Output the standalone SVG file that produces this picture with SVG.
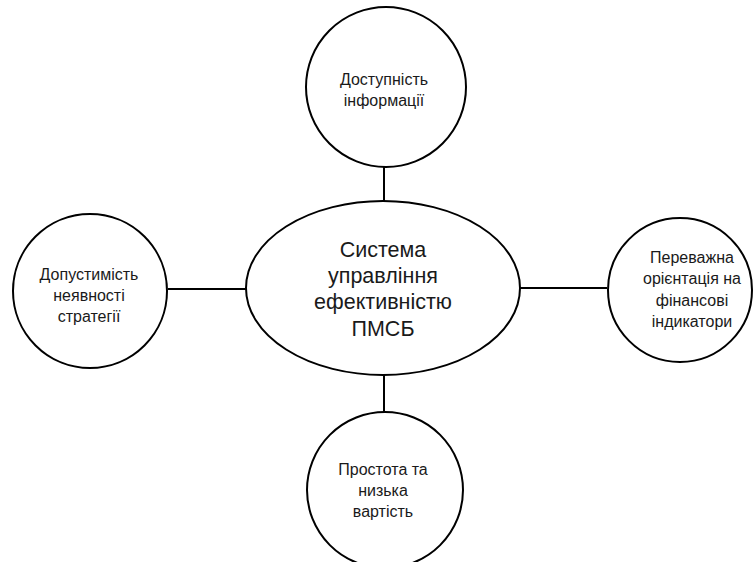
<svg xmlns="http://www.w3.org/2000/svg" width="753" height="562" viewBox="0 0 753 562">
<style>
.shape{fill:#fff;stroke:#000;stroke-width:2}
.conn line{stroke:#000;stroke-width:2}
.t{font-family:"Liberation Sans",Arial,sans-serif;font-size:16px;fill:#1a1a1a;text-anchor:middle}
.tc{font-family:"Liberation Sans",Arial,sans-serif;font-size:21.5px;fill:#1a1a1a;text-anchor:middle}
</style>
<rect width="753" height="562" fill="#fff"/>
<g id="connectors" class="conn">
<line x1="384" y1="166" x2="384" y2="201"/>
<line x1="168" y1="289" x2="246" y2="289"/>
<line x1="520" y1="288" x2="607" y2="288"/>
<line x1="384" y1="375" x2="384" y2="412"/>
</g>
<g id="center">
<ellipse class="shape" cx="383" cy="288" rx="137" ry="87"/>
<text class="tc" x="383" y="257">Система</text>
<text class="tc" x="383" y="283">управління</text>
<text class="tc" x="383" y="309">ефективністю</text>
<text class="tc" x="383" y="336">ПМСБ</text>
</g>
<g id="top">
<circle class="shape" cx="386" cy="87" r="80"/>
<text class="t" x="384" y="85">Доступність</text>
<text class="t" x="384" y="106">інформації</text>
</g>
<g id="left">
<circle class="shape" cx="90" cy="291" r="77"/>
<text class="t" x="89" y="280">Допустимість</text>
<text class="t" x="89" y="301">неявності</text>
<text class="t" x="89" y="322">стратегії</text>
</g>
<g id="right">
<circle class="shape" cx="680" cy="290" r="72"/>
<text class="t" x="692" y="263">Переважна</text>
<text class="t" x="692" y="284">орієнтація на</text>
<text class="t" x="692" y="306">фінансові</text>
<text class="t" x="692" y="327">індикатори</text>
</g>
<g id="bottom">
<circle class="shape" cx="385" cy="490" r="78"/>
<text class="t" x="383" y="475">Простота та</text>
<text class="t" x="383" y="496">низька</text>
<text class="t" x="383" y="517">вартість</text>
</g>
</svg>
